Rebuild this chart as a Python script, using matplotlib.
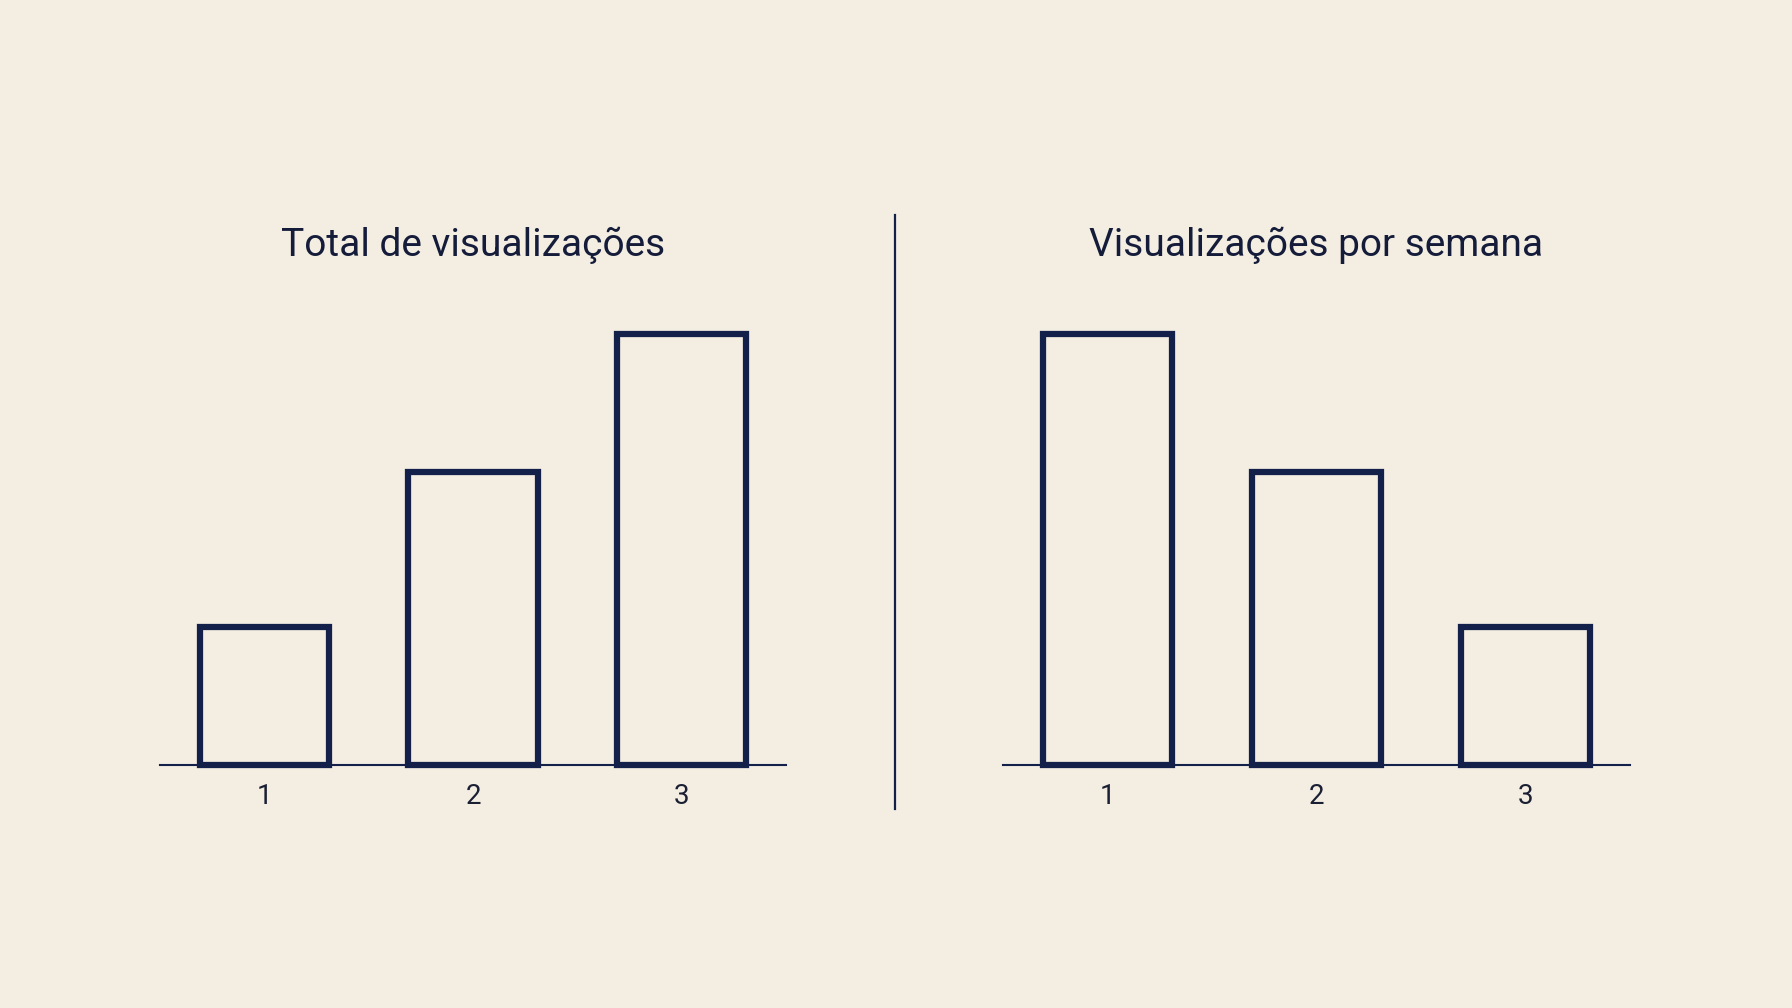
import matplotlib.pyplot as plt

plt.rcParams['font.family'] = ['Roboto', 'DejaVu Sans']

# data
semanas = [1, 2, 3]
total_views = [32, 68, 100]
weekly_views = [100, 68, 32]
titles = ['Total de visualizações', 'Visualizações por semana']

bg = '#f3ede2'
navy = '#13204a'
W, H = 1792, 1008

fig = plt.figure(figsize=(17.92, 10.08), dpi=100, facecolor=bg)

# axes boxes in pixels (left, right), baseline at y=765, bar height 431px
boxes = [(160, 786), (1003, 1630)]
base_y = 765
top_y = 334

for (x0, x1), vals, title in zip(boxes, [total_views, weekly_views], titles):
    ax = fig.add_axes([x0 / W, 1 - base_y / H, (x1 - x0) / W, (base_y - top_y) / H])
    ax.set_facecolor('none')
    ax.bar(semanas, vals, width=0.62, facecolor='none', edgecolor=navy,
           linewidth=4.5, clip_on=False, zorder=3)
    ax.set_xlim(0.5, 3.5)
    ax.set_ylim(0, 100)
    for s in ['top', 'right', 'left']:
        ax.spines[s].set_visible(False)
    ax.spines['bottom'].set_color(navy)
    ax.spines['bottom'].set_linewidth(1.5)
    ax.set_yticks([])
    ax.set_xticks(semanas)
    ax.set_xticklabels([str(s) for s in semanas], fontsize=20, color='#1a1f33')
    ax.tick_params(axis='x', length=0, pad=13)
    ax.set_title(title, fontsize=28, color='#141c3a', pad=56)

# divider line
fig.add_artist(plt.Line2D([895 / W, 895 / W], [1 - 215 / H, 1 - 809 / H],
                          color=navy, linewidth=1.6))

fig.savefig('out.png', dpi=100, facecolor=bg)
